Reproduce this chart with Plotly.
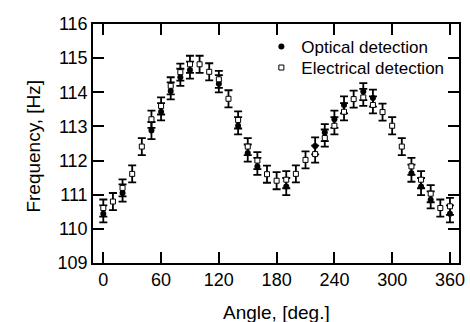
import plotly.graph_objects as go

# Optical detection (filled circles)
opt_angle = [0, 20, 50, 60, 70, 80, 90, 120, 140, 150, 160, 190, 220, 230, 240, 250, 270, 280, 320, 330, 340, 360]
opt_freq = [110.44, 111.05, 112.88, 113.43, 114.04, 114.44, 114.65, 114.25, 113.02, 112.22, 111.83, 111.24,
            112.43, 112.82, 113.21, 113.63, 114.02, 113.83, 111.63, 111.24, 110.85, 110.44]

# Electrical detection (open squares)
el_angle = list(range(0, 361, 10))
el_freq = [110.61, 110.80, 111.20, 111.61, 112.41, 113.21, 113.60, 114.19, 114.59, 114.82,
           114.82, 114.60, 114.38, 113.81, 113.19, 112.41, 112.00, 111.60, 111.41, 111.44,
           111.61, 112.02, 112.19, 112.66, 113.02, 113.43, 113.80, 113.85, 113.63, 113.42,
           113.02, 112.41, 111.83, 111.44, 111.03, 110.61, 110.66]

err = 0.25

xticks = [0, 60, 120, 180, 240, 300, 360]
yticks = [109, 110, 111, 112, 113, 114, 115, 116]

font = "Liberation Sans, Arial, sans-serif"

fig = go.Figure()
fig.add_trace(go.Scatter(
    x=opt_angle, y=opt_freq, mode="markers", name="Optical detection", legend="legend",
    marker=dict(symbol="circle", size=6, color="black", line=dict(width=0)),
    error_y=dict(type="constant", value=err, color="black", thickness=1.8, width=4),
))
fig.add_trace(go.Scatter(
    x=el_angle, y=el_freq, mode="markers", name="Electrical detection", legend="legend2",
    marker=dict(symbol="square", size=5, color="white", line=dict(width=1, color="black")),
    error_y=dict(type="constant", value=err, color="black", thickness=1.8, width=4),
))

axis_common = dict(
    showgrid=False, zeroline=False, showline=True, linecolor="black", linewidth=1.5,
    mirror="ticks", ticks="inside", ticklen=11, tickwidth=1.5, tickcolor="black",
    tickfont=dict(family=font, size=18, color="black"), automargin=False,
)

leg_common = dict(xanchor="left", yanchor="middle", bgcolor="rgba(0,0,0,0)",
                  font=dict(family=font, size=17, color="black"), itemwidth=30)

fig.update_layout(
    width=470, height=322,
    margin=dict(l=93, r=11, t=24, b=59),
    paper_bgcolor="white", plot_bgcolor="white",
    font=dict(family=font, color="black"),
    xaxis=dict(range=[-10.7, 369.4], tickvals=xticks, ticktext=[str(v) for v in xticks],
               **axis_common),
    yaxis=dict(range=[109, 116], tickvals=yticks, ticktext=[str(v) for v in yticks],
               **axis_common),
    showlegend=True,
    legend=dict(x=0.46, y=0.904, **leg_common),
    legend2=dict(x=0.46, y=0.816, **leg_common),
    annotations=[
        dict(text="Angle, [deg.]", xref="paper", yref="paper", x=0.5, y=-0.209,
             xanchor="center", yanchor="middle", showarrow=False,
             font=dict(family=font, size=19, color="black")),
        dict(text="Frequency, [Hz]", xref="paper", yref="paper", x=-0.162, y=0.49,
             xanchor="center", yanchor="middle", showarrow=False, textangle=-90,
             font=dict(family=font, size=19, color="black")),
    ],
)

fig.write_html("out.html")
